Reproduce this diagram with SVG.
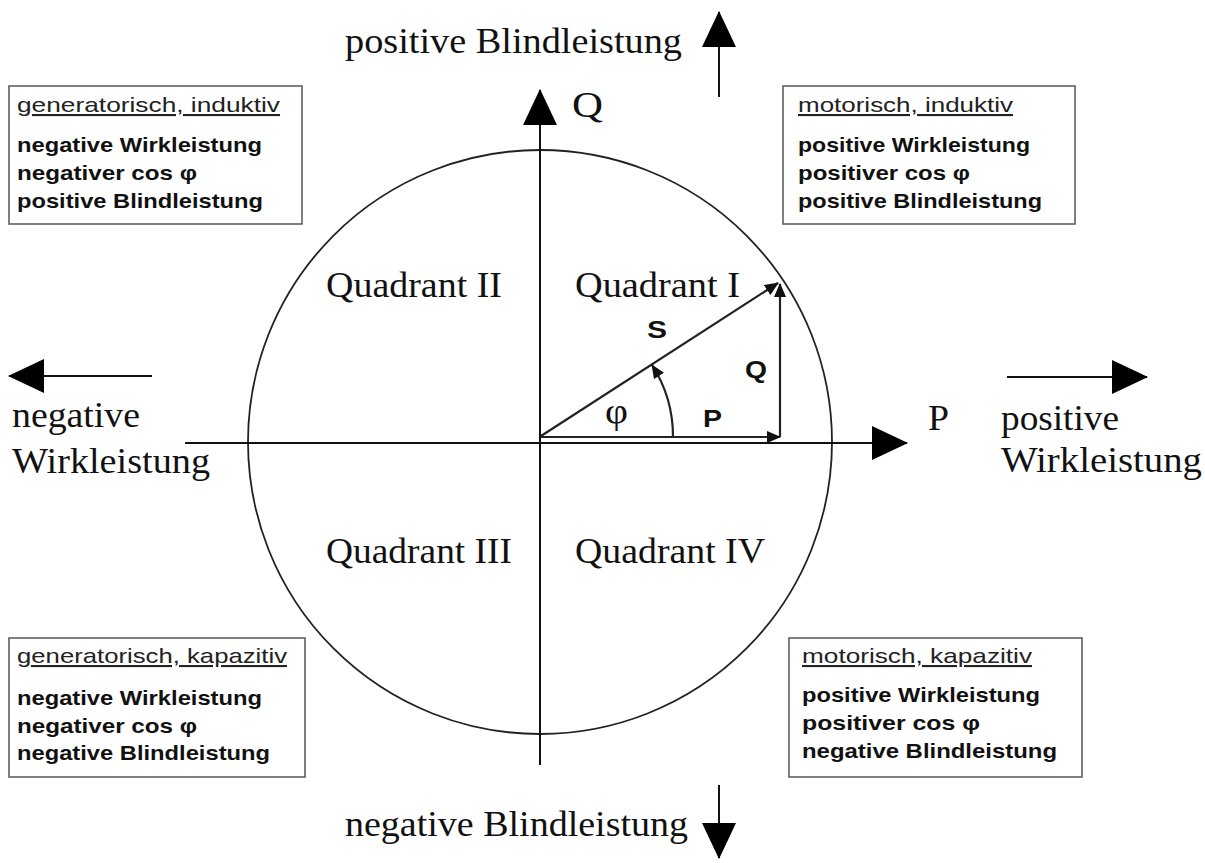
<svg xmlns="http://www.w3.org/2000/svg" width="1205" height="863" viewBox="0 0 1205 863">
<defs>
<marker id="big" markerUnits="userSpaceOnUse" markerWidth="36" markerHeight="34" viewBox="0 0 36 34" refX="35" refY="17" orient="auto"><path d="M0,0 L36,17 L0,34 z" fill="#000"/></marker>
<marker id="small" markerUnits="userSpaceOnUse" markerWidth="14" markerHeight="12" viewBox="0 0 14 12" refX="13" refY="6" orient="auto"><path d="M0,0 L14,6 L0,12 z" fill="#111"/></marker>
<style>
.ser{font-family:"Liberation Serif","Times New Roman",serif;fill:#111}
.big{font-size:35px}
.q{font-size:35px}
.hd{font-family:"Liberation Sans",Arial,sans-serif;font-size:21px;fill:#222;text-decoration:underline}
.bd{font-family:"Liberation Sans",Arial,sans-serif;font-size:21px;font-weight:bold;fill:#111}
.lab{font-family:"Liberation Sans",Arial,sans-serif;font-size:23px;font-weight:bold;fill:#111}
.box{fill:#fff;stroke:#555;stroke-width:1.5}
.ln{stroke:#111;stroke-width:2;fill:none}
.ph{stroke:#222;stroke-width:2.2;fill:none}
</style>
</defs>
<rect width="1205" height="863" fill="#fff"/>
<g id="circle"><circle cx="540" cy="442" r="292" fill="none" stroke="#222" stroke-width="1.8"/></g>
<g id="connectors">
<line class="ln" x1="185" y1="443" x2="907" y2="443" marker-end="url(#big)"/>
<line class="ln" x1="540" y1="765" x2="540" y2="90" marker-end="url(#big)"/>
<line class="ln" x1="719" y1="97" x2="719" y2="12" marker-end="url(#big)"/>
<line class="ln" x1="719" y1="785" x2="719" y2="858" marker-end="url(#big)"/>
<line class="ln" x1="152" y1="376" x2="9" y2="376" marker-end="url(#big)"/>
<line class="ln" x1="1007" y1="377" x2="1147" y2="377" marker-end="url(#big)"/>
<line class="ph" x1="541" y1="436" x2="778" y2="283" marker-end="url(#small)"/>
<line class="ph" x1="541" y1="437" x2="780" y2="437" marker-end="url(#small)"/>
<line class="ph" x1="780" y1="437" x2="780" y2="284" marker-end="url(#small)"/>
<path class="ph" d="M673,437 A132,132 0 0 0 652,365" marker-end="url(#small)"/>
</g>
<g id="axis-labels">
<text class="ser q" x="572" y="117" textLength="31" lengthAdjust="spacingAndGlyphs">Q</text>
<text class="ser q" x="928" y="430" textLength="21" lengthAdjust="spacingAndGlyphs">P</text>
<text class="ser big" x="345" y="53" textLength="337" lengthAdjust="spacingAndGlyphs">positive Blindleistung</text>
<text class="ser big" x="345" y="836" textLength="343" lengthAdjust="spacingAndGlyphs">negative Blindleistung</text>
<text class="ser q" x="12" y="427" textLength="128" lengthAdjust="spacingAndGlyphs">negative</text>
<text class="ser q" x="12" y="473" textLength="198" lengthAdjust="spacingAndGlyphs">Wirkleistung</text>
<text class="ser q" x="1001" y="430" textLength="118" lengthAdjust="spacingAndGlyphs">positive</text>
<text class="ser q" x="1001" y="472" textLength="201" lengthAdjust="spacingAndGlyphs">Wirkleistung</text>
</g>
<g id="quadrants">
<text class="ser q" x="326" y="297" textLength="176" lengthAdjust="spacingAndGlyphs">Quadrant II</text>
<text class="ser q" x="575" y="297" textLength="165" lengthAdjust="spacingAndGlyphs">Quadrant I</text>
<text class="ser q" x="326" y="563" textLength="186" lengthAdjust="spacingAndGlyphs">Quadrant III</text>
<text class="ser q" x="575" y="563" textLength="190" lengthAdjust="spacingAndGlyphs">Quadrant IV</text>
</g>
<g id="phasor-labels">
<text class="lab" x="647" y="338" textLength="20" lengthAdjust="spacingAndGlyphs">S</text>
<text class="lab" x="745" y="378" textLength="22" lengthAdjust="spacingAndGlyphs">Q</text>
<text class="lab" x="703" y="427" textLength="19" lengthAdjust="spacingAndGlyphs">P</text>
<text class="ser q" x="605" y="423" textLength="23" lengthAdjust="spacingAndGlyphs">φ</text>
</g>
<g id="box-gen-ind">
<rect class="box" x="9" y="86" width="293" height="138"/>
<text class="hd" x="17" y="112" textLength="263" lengthAdjust="spacingAndGlyphs">generatorisch, induktiv</text>
<text class="bd" x="17" y="152" textLength="245" lengthAdjust="spacingAndGlyphs">negative Wirkleistung</text>
<text class="bd" x="17" y="180" textLength="180" lengthAdjust="spacingAndGlyphs">negativer cos φ</text>
<text class="bd" x="17" y="208" textLength="246" lengthAdjust="spacingAndGlyphs">positive Blindleistung</text>
</g>
<g id="box-mot-ind">
<rect class="box" x="783" y="86" width="292" height="138"/>
<text class="hd" x="798" y="112" textLength="215" lengthAdjust="spacingAndGlyphs">motorisch, induktiv</text>
<text class="bd" x="798" y="152" textLength="232" lengthAdjust="spacingAndGlyphs">positive Wirkleistung</text>
<text class="bd" x="798" y="180" textLength="172" lengthAdjust="spacingAndGlyphs">positiver cos φ</text>
<text class="bd" x="798" y="208" textLength="244" lengthAdjust="spacingAndGlyphs">positive Blindleistung</text>
</g>
<g id="box-gen-kap">
<rect class="box" x="9" y="638" width="296" height="139"/>
<text class="hd" x="17" y="663" textLength="270" lengthAdjust="spacingAndGlyphs">generatorisch, kapazitiv</text>
<text class="bd" x="17" y="705" textLength="245" lengthAdjust="spacingAndGlyphs">negative Wirkleistung</text>
<text class="bd" x="17" y="733" textLength="180" lengthAdjust="spacingAndGlyphs">negativer cos φ</text>
<text class="bd" x="17" y="760" textLength="253" lengthAdjust="spacingAndGlyphs">negative Blindleistung</text>
</g>
<g id="box-mot-kap">
<rect class="box" x="789" y="638" width="293" height="139"/>
<text class="hd" x="802" y="663" textLength="230" lengthAdjust="spacingAndGlyphs">motorisch, kapazitiv</text>
<text class="bd" x="802" y="702" textLength="238" lengthAdjust="spacingAndGlyphs">positive Wirkleistung</text>
<text class="bd" x="802" y="730" textLength="178" lengthAdjust="spacingAndGlyphs">positiver cos  φ</text>
<text class="bd" x="802" y="758" textLength="255" lengthAdjust="spacingAndGlyphs">negative Blindleistung</text>
</g>
</svg>
